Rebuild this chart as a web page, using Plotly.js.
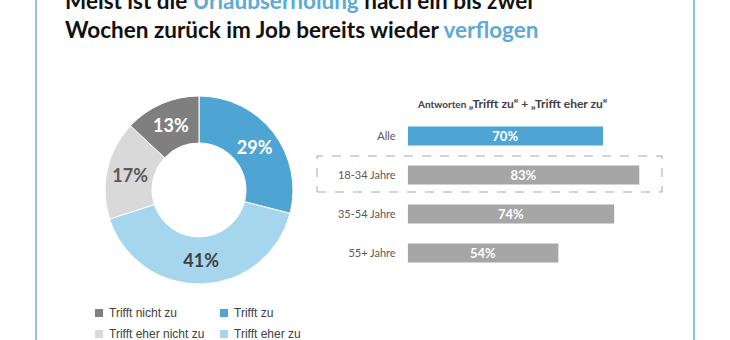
<!DOCTYPE html>
<html><head><meta charset="utf-8">
<script src="https://cdn.plot.ly/plotly-3.0.1.min.js"></script>
<style>html,body{margin:0;padding:0;background:#fff;}#chart{width:730px;height:340px;}</style>
</head><body><div id="chart"></div>
<script>
// Donut data (clockwise from 12 o'clock)
const pieLabels = ["Trifft zu", "Trifft eher zu", "Trifft eher nicht zu", "Trifft nicht zu"];
const pieValues = [29, 41, 17, 13];
const pieColors = ["#4ea5d3", "#a6d5ee", "#d9d9d9", "#7f7f7f"];
const pieTextColors = ["#ffffff", "#404040", "#595959", "#ffffff"];

// Legend order (2x2 grid, row by row)
const legendLabels = ["Trifft nicht zu", "Trifft zu", "Trifft eher nicht zu", "Trifft eher zu"];
const legendColors = ["#7f7f7f", "#4ea5d3", "#d9d9d9", "#a6d5ee"];

// Bar data
const barCategories = ["Alle", "18-34 Jahre", "35-54 Jahre", "55+ Jahre"];
const barValues = [70, 83, 74, 54];
const barColors = ["#4ea5d3", "#a6a6a6", "#a6a6a6", "#a6a6a6"];

const titleText = 'Meist ist die <span style="color:#5eaad2">Urlaubserholung</span> nach ein bis zwei<br>Wochen zurück im Job bereits wieder <span style="color:#5eaad2">verflogen</span>';
const subtitleText = '<span style="font-size:10px">Antworten </span>„Trifft zu“ + „Trifft eher zu“';

const W = 730, H = 340;
const px = x => x / W;
const py = y => 1 - y / H;

const traces = [
  {
    type: 'pie',
    labels: pieLabels,
    values: pieValues,
    sort: false,
    direction: 'clockwise',
    rotation: 0,
    hole: 0.5,
    marker: {colors: pieColors, line: {color: '#ffffff', width: 1}},
    texttemplate: '%{value}%',
    textposition: 'inside',
    insidetextorientation: 'horizontal',
    textfont: {family: 'Lato, sans-serif', size: 18, weight: 'bold', color: pieTextColors},
    domain: {x: [px(105), px(293)], y: [py(285), py(95)]},
    showlegend: false,
    hoverinfo: 'label+percent'
  },
  {
    type: 'bar',
    orientation: 'h',
    x: barValues,
    y: barCategories,
    marker: {color: barColors},
    texttemplate: '%{x}%',
    textposition: 'inside',
    insidetextanchor: 'middle',
    constraintext: 'none',
    textfont: {family: 'Lato, sans-serif', size: 13, weight: 'bold', color: '#ffffff'},
    xaxis: 'x', yaxis: 'y',
    showlegend: false
  }
];

const annotations = [
  {xref: 'paper', yref: 'paper', x: px(512), y: py(103), xanchor: 'center', yanchor: 'middle',
   text: subtitleText, showarrow: false,
   font: {family: 'Lato, sans-serif', size: 12, weight: 'bold', color: '#404040'}}
];
const shapes = [
  // frame lines
  {type: 'line', xref: 'paper', yref: 'paper', x0: px(36), x1: px(36), y0: 0, y1: 1, line: {color: '#93c3dc', width: 2}},
  {type: 'line', xref: 'paper', yref: 'paper', x0: px(694), x1: px(694), y0: 0, y1: 1, line: {color: '#93c3dc', width: 2}},
  // dashed highlight box
  {type: 'rect', xref: 'paper', yref: 'paper', x0: px(317), x1: px(662), y0: py(192), y1: py(156),
   line: {color: '#a6a6a6', width: 1, dash: 'dash'}, fillcolor: 'rgba(0,0,0,0)'}
];

// legend (2x2 grid)
const legX = [99, 224], legY = [313, 334];
legendLabels.forEach((lab, i) => {
  const cx = legX[i % 2], cy = legY[Math.floor(i / 2)];
  shapes.push({type: 'rect', xref: 'paper', yref: 'paper', x0: px(cx - 4), x1: px(cx + 4), y0: py(cy + 4), y1: py(cy - 4),
    line: {width: 0}, fillcolor: legendColors[i]});
  annotations.push({xref: 'paper', yref: 'paper', x: px(cx + 8), y: py(cy), xanchor: 'left', yanchor: 'middle',
    text: lab, showarrow: false, font: {family: 'Liberation Sans, Arial, sans-serif', size: 12, color: '#404040'}});
});

const layout = {
  width: W, height: H,
  margin: {l: 0, r: 0, t: 0, b: 0},
  paper_bgcolor: '#ffffff', plot_bgcolor: 'rgba(0,0,0,0)',
  title: {
    text: titleText,
    x: px(65), xref: 'container', xanchor: 'left',
    y: py(9), yref: 'container', yanchor: 'bottom',
    font: {family: 'Lato, sans-serif', size: 22.5, weight: 'bold', color: '#111111'}
  },
  xaxis: {domain: [px(407.7), px(686.7)], range: [0, 100], visible: false, fixedrange: true},
  yaxis: {domain: [py(272.5), py(116.5)], autorange: 'reversed', showline: false, showgrid: false, zeroline: false,
    ticks: '', ticklabelstandoff: 11,
    tickfont: {family: 'Lato, sans-serif', size: 11, color: '#595959'}},
  bargap: 0.51,
  showlegend: false,
  annotations: annotations,
  shapes: shapes
};

Plotly.newPlot('chart', traces, layout, {displayModeBar: false, staticPlot: true});
</script>
</body></html>
